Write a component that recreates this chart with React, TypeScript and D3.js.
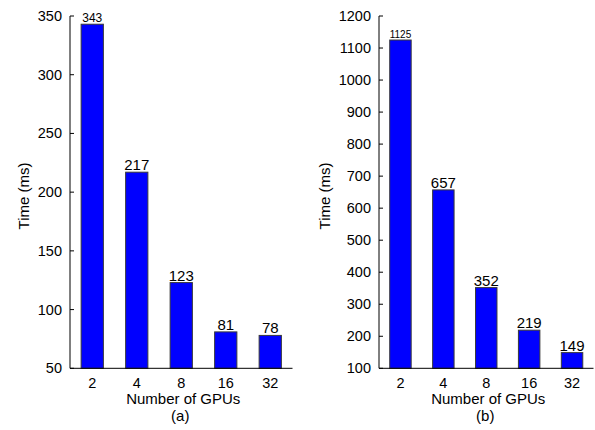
import React from "react";
import * as d3 from "d3";

const gpus = ["2", "4", "8", "16", "32"];
const timesA = [343, 217, 123, 81, 78];
const timesB = [1125, 657, 352, 219, 149];
const ticksA = [50, 100, 150, 200, 250, 300, 350];
const ticksB = [100, 200, 300, 400, 500, 600, 700, 800, 900, 1000, 1100, 1200];
const labelSizesA = [12, 15, 15, 15, 15];
const labelSizesB = [10, 15, 15, 15, 15];

const FONT = "'Liberation Sans', Arial, Helvetica, sans-serif";

type PanelProps = {
  values: number[];
  ticks: number[];
  domain: [number, number];
  x0: number;
  x1: number;
  yLabelX: number;
  caption: string;
  labelSizes: number[];
};

function Panel({ values, ticks, domain, x0, x1, yLabelX, caption, labelSizes }: PanelProps) {
  const top = 16;
  const bottom = 368.3;
  const x = d3.scaleBand<string>().domain(gpus).range([x0, x1]).paddingInner(0.5).paddingOuter(0.25);
  const y = d3.scaleLinear().domain(domain).range([bottom, top]);
  const cx = (x0 + x1) / 2;
  return (
    <g fontFamily={FONT} fill="#000">
      {values.map((v, i) => (
        <rect
          key={"b" + i}
          x={x(gpus[i])}
          y={y(v)}
          width={x.bandwidth()}
          height={bottom - y(v)}
          fill="#0000ff"
          stroke="#3a3a3a"
          strokeWidth={1}
        />
      ))}
      {values.map((v, i) => (
        <text
          key={"v" + i}
          x={(x(gpus[i]) as number) + x.bandwidth() / 2}
          y={y(v) - 2}
          textAnchor="middle"
          fontSize={labelSizes[i]}
        >
          {v}
        </text>
      ))}
      <line x1={x0} x2={x0} y1={top} y2={bottom} stroke="#000" strokeWidth={1} />
      <line x1={x0} x2={x1} y1={bottom} y2={bottom} stroke="#000" strokeWidth={1} />
      {ticks.map((t) => (
        <g key={"t" + t}>
          <line x1={x0} x2={x0 + 4} y1={y(t)} y2={y(t)} stroke="#000" strokeWidth={1} />
          <text x={x0 - 8} y={y(t) + 5} textAnchor="end" fontSize={14.5}>
            {t}
          </text>
        </g>
      ))}
      {gpus.map((g) => (
        <text key={"x" + g} x={(x(g) as number) + x.bandwidth() / 2} y={387.5} textAnchor="middle" fontSize={14.5}>
          {g}
        </text>
      ))}
      <text x={cx + 2} y={404} textAnchor="middle" fontSize={15}>
        Number of GPUs
      </text>
      <text x={cx - 1} y={421} textAnchor="middle" fontSize={15}>
        {caption}
      </text>
      <text
        transform={`translate(${yLabelX},196) rotate(-90)`}
        textAnchor="middle"
        fontSize={15}
      >
        Time (ms)
      </text>
    </g>
  );
}

export default function App() {
  return (
    <svg width={595} height={430} style={{ position: "absolute", left: 0, top: 0, background: "#fff" }}>
      <rect x={0} y={0} width={595} height={430} fill="#fff" />
      <Panel values={timesA} ticks={ticksA} domain={[50, 350]} x0={70} x1={292.5} yLabelX={28.5} caption="(a)" labelSizes={labelSizesA} />
      <Panel values={timesB} ticks={ticksB} domain={[100, 1200]} x0={379} x1={593.5} yLabelX={330} caption="(b)" labelSizes={labelSizesB} />
    </svg>
  );
}
